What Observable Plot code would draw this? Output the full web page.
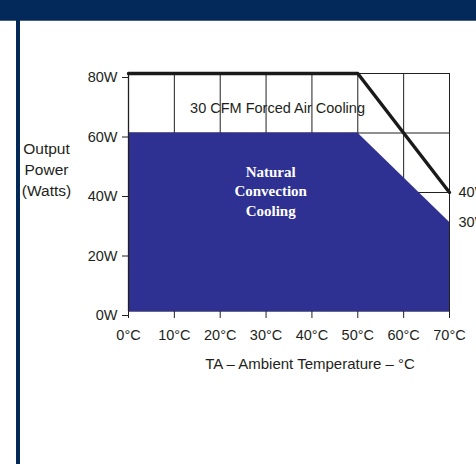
<!DOCTYPE html>
<html>
<head>
<meta charset="utf-8">
<script src="https://cdn.jsdelivr.net/npm/d3@7"></script>
<script src="https://cdn.jsdelivr.net/npm/@observablehq/plot@0.6"></script>
<style>
  html, body { margin: 0; padding: 0; background: #fff; overflow: hidden; }
  #wrap { position: relative; width: 476px; height: 464px; }
  #topbar { position: absolute; left: 0; top: 0; width: 476px; height: 20px; background: #03295a; border-bottom: 1px solid #4a6080; z-index: 2; }
  #leftbar { position: absolute; left: 16px; top: 0; width: 4px; height: 464px; background: #03295a; z-index: 2; }
  #chart { position: absolute; left: 0; top: 0; }
</style>
</head>
<body>
<div id="wrap">
  <div id="chart"></div>
  <div id="topbar"></div>
  <div id="leftbar"></div>
</div>
<script>
// Data
const temps = [0, 50, 70];               // °C breakpoints
const naturalW = [60, 60, 30];           // Natural convection cooling (W)
const forcedW = [80, 80, 40];            // 30 CFM forced air cooling (W)
const xTicks = [0, 10, 20, 30, 40, 50, 60, 70];
const yTicks = [0, 20, 40, 60, 80];
const endLabels = ["40W", "30W"];
const endValues = [40, 30];
const forcedLabel = "30 CFM Forced Air Cooling";
const naturalLabel = "Natural\nConvection\nCooling";
const yTitle = "Output\nPower\n(Watts)";
const xTitle = "TA – Ambient Temperature – °C";

const natural = temps.map((t, i) => ({t, w: naturalW[i]}));
const forced = temps.map((t, i) => ({t, w: forcedW[i]}));
const ends = endLabels.map((label, i) => ({t: 70, w: endValues[i], label}));

const ink = "#231f20";

const chart = Plot.plot({
  width: 476,
  height: 400,
  marginLeft: 128,
  marginRight: 27,
  marginTop: 73,
  marginBottom: 89,
  style: {fontFamily: "'Liberation Sans', Arial, sans-serif", fontSize: "14.5px", color: ink, background: "transparent", overflow: "visible"},
  x: {domain: [0, 70], label: null},
  y: {domain: [0, 80], label: null},
  marks: [
    // grid
    Plot.ruleX(xTicks.slice(1), {y1: 0, y2: 80, stroke: ink, strokeWidth: 1}),
    Plot.ruleY(yTicks.slice(1), {x1: 0, x2: 70, stroke: ink, strokeWidth: 1}),
    // natural convection area
    Plot.areaY(natural, {x: "t", y: "w", fill: "#2e3192"}),
    // axis lines
    Plot.ruleX([0], {y1: 0, y2: 80, stroke: ink, strokeWidth: 1.3}),
    Plot.ruleY([0], {x1: 0, x2: 70, stroke: "#6a6a8a", strokeWidth: 1}),
    // forced air curve
    Plot.line(forced, {x: "t", y: "w", stroke: "#1a1a1a", strokeWidth: 3.4}),
    // region labels
    Plot.text([forcedLabel], {x: 32.5, y: 68.2, fill: ink, fontSize: 14.5}),
    Plot.text([naturalLabel], {x: 31, y: 40.8, fill: "white", fontFamily: "'Liberation Serif', 'Times New Roman', serif", fontWeight: "bold", fontSize: 15, lineHeight: 1.3}),
    // end labels
    Plot.text(ends, {x: "t", y: "w", text: "label", textAnchor: "start", dx: 9, fill: ink, fontSize: 14.5}),
    // axis titles
    Plot.text([yTitle], {frameAnchor: "left", dx: -82, dy: -24, textAnchor: "middle", fill: ink, fontSize: 15.5, lineHeight: 1.35}),
    Plot.text([xTitle], {frameAnchor: "bottom", dx: 21, dy: 57, fill: ink, fontSize: 15}),
    // axes
    Plot.axisX({ticks: xTicks, tickFormat: d => `${d}°C`, tickSize: 7, tickPadding: 11, label: null, fontSize: 14.5}),
    Plot.axisY({ticks: yTicks, tickFormat: d => `${d}W`, tickSize: 6, tickPadding: 5, label: null, fontSize: 14.5, dy: 4})
  ]
});
document.getElementById("chart").appendChild(chart);
</script>
</body>
</html>
